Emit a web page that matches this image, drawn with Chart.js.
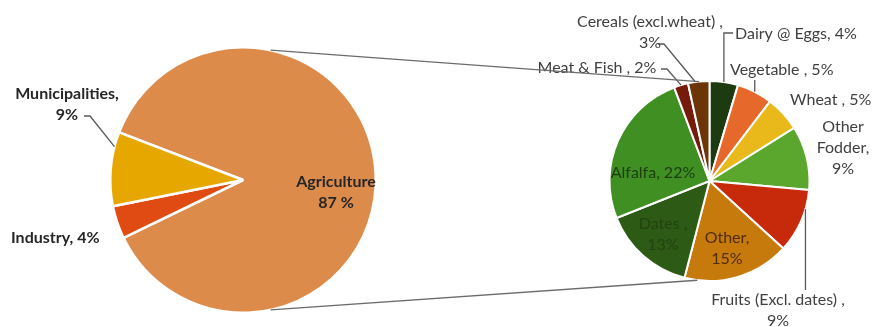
<!DOCTYPE html>
<html>
<head>
<meta charset="utf-8">
<script src="https://cdn.jsdelivr.net/npm/chart.js@4.4.1/dist/chart.umd.min.js"></script>
<style>
html, body { margin: 0; padding: 0; background: #fff; }
#wrap { position: relative; width: 873px; height: 327px; overflow: hidden; }
#wrap canvas { position: absolute; left: 0; top: 0; }
</style>
</head>
<body>
<div id="wrap">
  <canvas id="waterUse" width="873" height="327"></canvas>
  <canvas id="agriUse" width="873" height="327"></canvas>
</div>
<script>
// water use by sector (left pie)
const sectors = ['Agriculture', 'Industry', 'Municipalities'];
const sectorShare = [87, 4, 9];
const sectorColors = ['#DD8B4A', '#DF4B12', '#E6A700'];

// agriculture split (right pie), clockwise from 12 o'clock
const crops = ['Dairy @ Eggs', 'Vegetable', 'Wheat', 'Other Fodder', 'Fruits (Excl. dates)',
               'Other', 'Dates', 'Alfalfa', 'Meat & Fish', 'Cereals (excl.wheat)'];
const cropShare = [4, 5, 5, 9, 9, 15, 13, 22, 2, 3];
const cropColors = ['#1D3B10', '#E7682B', '#E9B91C', '#5BA62C', '#C72A0B',
                    '#C67A0C', '#2D5A15', '#3F8F23', '#761A0B', '#6B3507'];

const FONT = 'Lato, "Open Sans", sans-serif';

// label placement per canvas (kept outside chart options so functions aren't treated as scriptable)
const labelLayout = {
  waterUse: {
    size: 16, bold: true, color: '#262626', gap: 21,
    items: [
      { lines: ['Agriculture', '87 %'], x: 336, y: 182 },
      { lines: ['{name}, {v}%'], x: 11, y: 238, align: 'left' },
      { lines: ['{name},', '{v}%'], x: 67, y: 94, at: 0.8,
        leader: p => [[84, 116], [90, 116], p] }
    ]
  },
  agriUse: {
    size: 16, bold: false, color: '#404040', gap: 21,
    items: [
      { lines: ['{name}, {v}%'], x: 735, y: 34, align: 'left',
        leader: p => [[733, 33], [p[0], 33], p] },
      { lines: ['{name} , {v}%'], x: 730, y: 70, align: 'left',
        leader: p => [[p[0], 80], p] },
      { lines: ['{name} , {v}%'], x: 790, y: 100, align: 'left' },
      { lines: ['Other', 'Fodder,', '{v}%'], x: 843, y: 127 },
      { lines: ['{name} ,', '{v}%'], x: 778, y: 300, at: 0.3,
        leader: p => [[p[0], 290], p] },
      { lines: ['{name},', '{v}%'], x: 727, y: 238, color: '#4f2c02' },
      { lines: ['{name} ,', '{v}%'], x: 663, y: 224, color: '#234212' },
      { lines: ['{name}, {v}%'], x: 653, y: 173, color: '#1e3d10' },
      { lines: ['{name} , {v}%'], x: 597, y: 68,
        leader: p => [[661, 69], [667, 69], p] },
      { lines: ['{name} ,', '{v}%'], x: 650, y: 22, at: 0.35,
        leader: p => [[658, 44], [664, 44], p] }
    ]
  }
};

// point on the rim of an arc element, frac = position along the slice (0..1)
function rimPoint(arc, frac) {
  const a = arc.startAngle + (arc.endAngle - arc.startAngle) * (frac == null ? 0.5 : frac);
  return [arc.x + Math.cos(a) * arc.outerRadius, arc.y + Math.sin(a) * arc.outerRadius];
}

const sliceLabels = {
  id: 'sliceLabels',
  afterDatasetsDraw(chart) {
    const cfg = labelLayout[chart.canvas.id];
    const ctx = chart.ctx;
    const meta = chart.getDatasetMeta(0);
    const values = chart.data.datasets[0].data;
    const names = chart.data.labels;
    ctx.save();
    cfg.items.forEach((it, i) => {
      const arc = meta.data[i];
      if (it.leader) {
        const pts = it.leader(rimPoint(arc, it.at));
        ctx.strokeStyle = '#595959';
        ctx.lineWidth = 1.3;
        ctx.beginPath();
        pts.forEach((q, j) => j ? ctx.lineTo(q[0], q[1]) : ctx.moveTo(q[0], q[1]));
        ctx.stroke();
      }
      ctx.fillStyle = it.color || cfg.color;
      ctx.font = (cfg.bold ? 'bold ' : '') + cfg.size + 'px ' + FONT;
      ctx.textAlign = it.align || 'center';
      ctx.textBaseline = 'middle';
      it.lines.forEach((ln, j) => {
        const t = ln.replace('{name}', names[i]).replace('{v}', values[i]);
        ctx.fillText(t, it.x, it.y + j * cfg.gap);
      });
    });
    ctx.restore();
  }
};

// zoom lines joining the two pies
const zoomLines = {
  id: 'zoomLines',
  afterDatasetsDraw(chart) {
    const big = Chart.getChart('waterUse').getDatasetMeta(0).data[0];
    const small = chart.getDatasetMeta(0).data[0];
    const at = (el, deg) => {
      const a = (deg - 90) * Math.PI / 180;
      return [el.x + Math.cos(a) * el.outerRadius, el.y + Math.sin(a) * el.outerRadius];
    };
    const pairs = [[at(big, 12), at(small, -6)], [at(big, 168), at(small, 187)]];
    const ctx = chart.ctx;
    ctx.save();
    ctx.strokeStyle = '#6b6b6b';
    ctx.lineWidth = 1.3;
    pairs.forEach(([a, b]) => {
      ctx.beginPath();
      ctx.moveTo(a[0], a[1]);
      ctx.lineTo(b[0], b[1]);
      ctx.stroke();
    });
    ctx.restore();
  }
};

new Chart(document.getElementById('waterUse'), {
  type: 'pie',
  data: {
    labels: sectors,
    datasets: [{
      data: sectorShare,
      backgroundColor: sectorColors,
      borderColor: '#fff',
      borderWidth: 2.5
    }]
  },
  options: {
    responsive: false,
    animation: false,
    events: [],
    rotation: -69,
    layout: { padding: { left: 106, right: 493, top: 46, bottom: 13 } },
    plugins: { legend: { display: false }, tooltip: { enabled: false } }
  },
  plugins: [sliceLabels]
});

new Chart(document.getElementById('agriUse'), {
  type: 'pie',
  data: {
    labels: crops,
    datasets: [{
      data: cropShare,
      backgroundColor: cropColors,
      borderColor: '#fff',
      borderWidth: 2
    }]
  },
  options: {
    responsive: false,
    animation: false,
    events: [],
    layout: { padding: { left: 608, right: 62, top: 80, bottom: 45 } },
    plugins: { legend: { display: false }, tooltip: { enabled: false } }
  },
  plugins: [sliceLabels, zoomLines]
});
</script>
</body>
</html>
